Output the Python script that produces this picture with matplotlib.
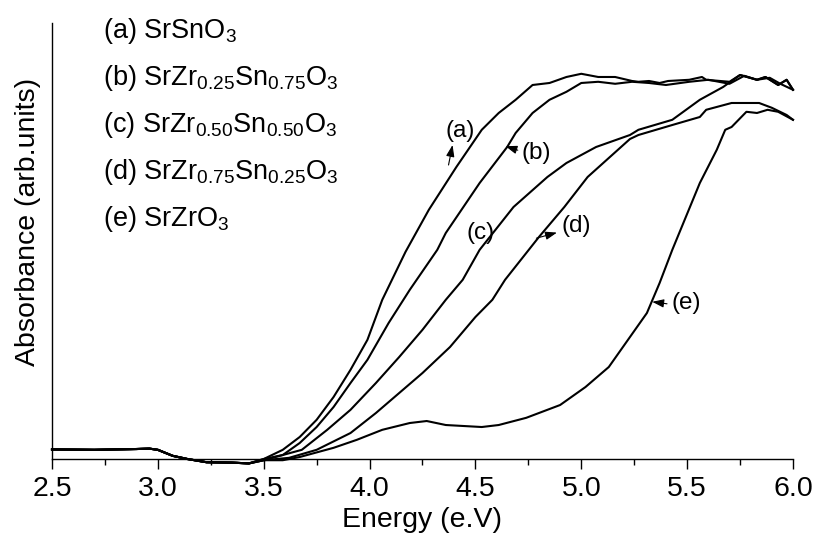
import matplotlib
matplotlib.use("Agg")
import matplotlib.pyplot as plt
import numpy as np

plt.rcParams["font.family"] = ["Liberation Sans", "DejaVu Sans"]
plt.rcParams["mathtext.fontset"] = "custom"
plt.rcParams["mathtext.rm"] = "Liberation Sans"
plt.rcParams["mathtext.it"] = "Liberation Sans:italic"

# common flat baseline below the band edge (all five samples)
base_x = [2.50, 2.70, 2.90, 2.96, 3.00, 3.07, 3.14, 3.23, 3.35, 3.43]
base_y = [0.024, 0.023, 0.025, 0.026, 0.023, 0.008, 0.000, -0.008, -0.009, -0.011]

# (a) SrSnO3
a_x = [3.50, 3.59, 3.67, 3.75, 3.83, 3.91, 3.99, 4.06, 4.17, 4.28, 4.41, 4.53, 4.61, 4.69,
       4.77, 4.85, 4.93, 5.00, 5.08, 5.16, 5.24, 5.27, 5.32, 5.37, 5.41, 5.51, 5.57, 5.59,
       5.70, 5.75, 5.83, 5.87, 5.93, 5.97, 6.00]
a_y = [0.000, 0.023, 0.055, 0.098, 0.155, 0.223, 0.298, 0.398, 0.518, 0.623, 0.730, 0.823,
       0.865, 0.898, 0.935, 0.940, 0.955, 0.963, 0.955, 0.955, 0.945, 0.943, 0.945, 0.940,
       0.945, 0.948, 0.955, 0.948, 0.943, 0.960, 0.948, 0.955, 0.935, 0.948, 0.923]

# (b) SrZr0.25Sn0.75O3
b_x = [3.50, 3.59, 3.67, 3.75, 3.83, 3.91, 3.99, 4.09, 4.19, 4.32, 4.36, 4.52, 4.65, 4.69,
       4.77, 4.85, 4.93, 5.00, 5.08, 5.16, 5.24, 5.32, 5.40, 5.51, 5.60, 5.70, 5.77, 5.83,
       5.89, 5.94, 6.00]
b_y = [0.000, 0.010, 0.040, 0.080, 0.130, 0.190, 0.248, 0.340, 0.423, 0.523, 0.565, 0.690,
       0.780, 0.815, 0.865, 0.898, 0.918, 0.940, 0.943, 0.938, 0.943, 0.940, 0.935, 0.943,
       0.948, 0.938, 0.958, 0.948, 0.953, 0.938, 0.923]

# (c) SrZr0.50Sn0.50O3
c_x = [3.50, 3.68, 3.80, 3.91, 4.03, 4.14, 4.25, 4.36, 4.44, 4.52, 4.68, 4.84, 4.93, 5.07,
       5.23, 5.27, 5.43, 5.56, 5.67, 5.75, 5.83, 5.87, 5.93, 5.97, 6.00]
c_y = [-0.003, 0.023, 0.073, 0.123, 0.190, 0.255, 0.323, 0.398, 0.448, 0.523, 0.630, 0.705,
       0.740, 0.780, 0.810, 0.823, 0.848, 0.898, 0.930, 0.960, 0.948, 0.955, 0.935, 0.948,
       0.923]

# (d) SrZr0.75Sn0.25O3
d_x = [3.50, 3.62, 3.75, 3.91, 4.03, 4.14, 4.25, 4.38, 4.50, 4.58, 4.64, 4.80, 4.92, 5.03,
       5.23, 5.27, 5.43, 5.56, 5.59, 5.71, 5.84, 5.90, 5.97, 6.00]
d_y = [-0.003, 0.003, 0.023, 0.065, 0.115, 0.165, 0.215, 0.280, 0.355, 0.398, 0.448, 0.555,
       0.630, 0.705, 0.800, 0.810, 0.835, 0.855, 0.873, 0.890, 0.890, 0.878, 0.860, 0.848]

# (e) SrZrO3
e_x = [3.50, 3.59, 3.67, 3.83, 3.94, 4.06, 4.19, 4.27, 4.36, 4.53, 4.61, 4.74, 4.90, 5.02,
       5.13, 5.21, 5.31, 5.37, 5.43, 5.56, 5.64, 5.68, 5.71, 5.78, 5.83, 5.88, 5.93, 6.00]
e_y = [-0.003, -0.003, 0.005, 0.028, 0.048, 0.073, 0.090, 0.095, 0.085, 0.080, 0.085, 0.103,
       0.135, 0.180, 0.230, 0.290, 0.365, 0.440, 0.523, 0.690, 0.773, 0.823, 0.830, 0.868,
       0.865, 0.873, 0.868, 0.848]

legend_lines = [
    r"(a) SrSnO$_{3}$",
    r"(b) SrZr$_{0.25}$Sn$_{0.75}$O$_{3}$",
    r"(c) SrZr$_{0.50}$Sn$_{0.50}$O$_{3}$",
    r"(d) SrZr$_{0.75}$Sn$_{0.25}$O$_{3}$",
    r"(e) SrZrO$_{3}$",
]

# curve label, label position, arrow tail, arrow head (None = no arrow)
labels = [
    ("(a)", (4.43, 0.82), (4.373, 0.735), (4.392, 0.785)),
    ("(b)", (4.785, 0.765), (4.70, 0.772), (4.642, 0.782)),
    ("(c)", (4.524, 0.565), None, None),
    ("(d)", (4.976, 0.583), (4.788, 0.552), (4.885, 0.566)),
    ("(e)", (5.495, 0.39), (5.405, 0.388), (5.335, 0.393)),
]

fig = plt.figure(figsize=(8.16, 5.42), dpi=100)
ax = fig.add_axes([0.0637, 0.1531, 0.9081, 0.8045])

for xs, ys in [(a_x, a_y), (b_x, b_y), (c_x, c_y), (d_x, d_y), (e_x, e_y)]:
    ax.plot(base_x + xs, base_y + ys, color="black", lw=1.5, clip_on=False)

ax.set_xlim(2.5, 6.0)
ax.set_ylim(0, 1.09)
ax.set_xticks(np.arange(2.5, 6.01, 0.5))
ax.set_xticks(np.arange(2.5, 6.01, 0.25), minor=True)
ax.set_yticks([])
ax.tick_params(axis="x", which="major", direction="out", length=7.5, width=1.0,
               labelsize=20.5, pad=5)
ax.tick_params(axis="x", which="minor", direction="out", length=4, width=1.0)
for side in ["top", "right"]:
    ax.spines[side].set_visible(False)
for side in ["left", "bottom"]:
    ax.spines[side].set_linewidth(1.0)

ax.set_xlabel("Energy (e.V)", fontsize=20.5, labelpad=3)
ax.text(-0.032, 0.544, "Absorbance (arb.units)", transform=ax.transAxes, fontsize=20.5,
        rotation=90, ha="center", va="center")

for i, txt in enumerate(legend_lines):
    ax.text(0.069, 0.982 - i * 0.1078, txt, transform=ax.transAxes, fontsize=19.5,
            ha="left", va="center")

for name, pos, tail, head in labels:
    ax.text(pos[0], pos[1], name, fontsize=17.5, ha="center", va="center")
    if tail is not None:
        ax.annotate("", xy=head, xytext=tail,
                    arrowprops=dict(arrowstyle="-|>,head_length=0.7,head_width=0.25",
                                    color="black", lw=0.8, shrinkA=0, shrinkB=0))

fig.savefig("out.png", dpi=100)
